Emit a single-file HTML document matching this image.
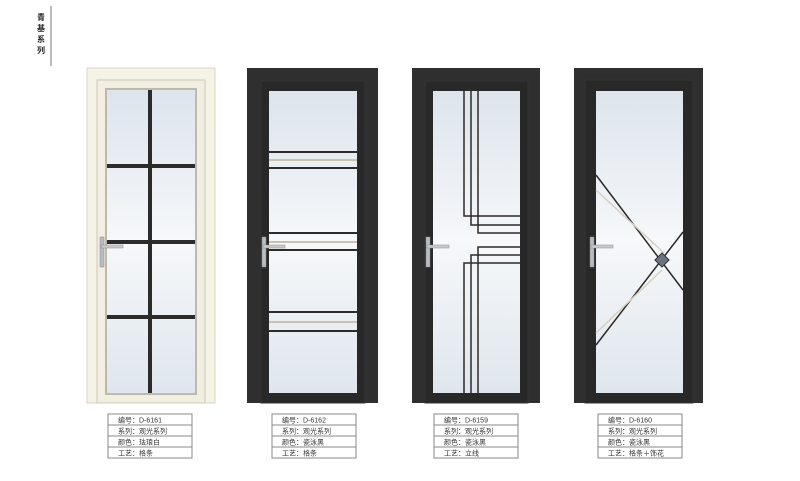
<!DOCTYPE html>
<html><head><meta charset="utf-8"><style>
body{margin:0;background:#fff;width:800px;height:476px;overflow:hidden;font-family:"Liberation Sans","Noto Sans CJK SC",sans-serif}
</style></head><body>
<svg width="800" height="476" viewBox="0 0 800 476" xmlns="http://www.w3.org/2000/svg">
<defs>
<linearGradient id="g" x1="0" y1="0" x2="0" y2="1">
<stop offset="0" stop-color="#dde4ec"/><stop offset="0.5" stop-color="#f6f8fa"/><stop offset="1" stop-color="#dfe6ed"/>
</linearGradient>
<g id="handle">
<rect x="0" y="0" width="4" height="30" fill="#b9bcc0" stroke="#888" stroke-width="0.5"/>
<rect x="1" y="8" width="22" height="3" fill="#c8cbce" stroke="#888" stroke-width="0.5"/>
</g>
</defs>
<!-- title -->
<line x1="51" y1="6" x2="51" y2="66" stroke="#bbb" stroke-width="2"/>
<text font-size="8" font-weight="bold" fill="#222" font-family="'Noto Sans CJK SC',sans-serif">
<tspan x="37" y="20">青</tspan><tspan x="37" y="31">基</tspan><tspan x="37" y="42">系</tspan><tspan x="37" y="53">列</tspan></text>

<!-- Door 1 cream -->
<rect x="87" y="68" width="128" height="335" fill="#f5f2e6" stroke="#d9d5c5"/>
<rect x="97" y="80" width="108" height="323" fill="#f2efe2" stroke="#cfcab8"/>
<rect x="105" y="88" width="92" height="307" fill="#bcb9ad"/>
<rect x="107" y="90" width="88" height="303" fill="url(#g)"/>
<rect x="148" y="90" width="4" height="303" fill="#2b2b2b"/>
<rect x="107" y="164" width="88" height="4" fill="#2b2b2b"/>
<rect x="107" y="240" width="88" height="4" fill="#2b2b2b"/>
<rect x="107" y="315" width="88" height="4" fill="#2b2b2b"/>
<use href="#handle" x="100" y="237"/>

<!-- Door 2 -->
<rect x="247" y="68" width="131" height="335" fill="#2f2f2f"/>
<rect x="261" y="81" width="104" height="322" fill="#282828" stroke="#333"/>
<rect x="269" y="91" width="88" height="302" fill="url(#g)"/>
<g fill="#2b2b2b">
<rect x="269" y="151" width="88" height="2"/><rect x="269" y="167" width="88" height="2"/>
<rect x="269" y="232" width="88" height="2"/><rect x="269" y="249" width="88" height="2"/>
<rect x="269" y="311" width="88" height="2"/><rect x="269" y="330" width="88" height="2"/>
</g>
<g fill="#c9bfb3"><rect x="269" y="159" width="88" height="2"/><rect x="269" y="241" width="88" height="2"/><rect x="269" y="321" width="88" height="2"/></g>
<use href="#handle" x="262" y="237"/>

<!-- Door 3 -->
<rect x="412" y="68" width="128" height="335" fill="#2f2f2f"/>
<rect x="425" y="81" width="103" height="322" fill="#282828" stroke="#333"/>
<rect x="433" y="91" width="87" height="302" fill="url(#g)"/>
<g fill="none" stroke="#2e2a28" stroke-width="1.5">
<path d="M464 91 V216 H520"/><path d="M471 91 V225 H520"/><path d="M478 91 V233 H520"/>
<path d="M478 393 V247 H520"/><path d="M471 393 V255 H520"/><path d="M464 393 V263 H520"/>
</g>
<use href="#handle" x="426" y="237"/>

<!-- Door 4 -->
<rect x="574" y="68" width="129" height="335" fill="#2f2f2f"/>
<rect x="585" y="80" width="108" height="323" fill="#282828" stroke="#333"/>
<rect x="596" y="91" width="87" height="302" fill="url(#g)"/>
<g stroke-width="1.5">
<line x1="596" y1="175" x2="683" y2="290" stroke="#2a2a2a"/>
<line x1="596" y1="190" x2="664" y2="253" stroke="#d6cec2"/>
<line x1="683" y1="232" x2="596" y2="345" stroke="#2a2a2a"/>
<line x1="662" y1="270" x2="596" y2="333" stroke="#d6cec2"/>
</g>
<rect x="657" y="255" width="10" height="10" fill="#6a7480" stroke="#333" transform="rotate(45 662 260)"/>
<use href="#handle" x="590" y="237"/>

<!-- tables -->
<g font-size="7" fill="#333" stroke="none">
<g transform="translate(108,414)">
<rect x="0" y="0" width="84" height="44" fill="#fff" stroke="#888"/>
<line x1="0" y1="11" x2="84" y2="11" stroke="#888"/><line x1="0" y1="22" x2="84" y2="22" stroke="#888"/><line x1="0" y1="33" x2="84" y2="33" stroke="#888"/>
<text x="10" y="8.5">编号：D-6161</text><text x="10" y="19.5">系列：观光系列</text><text x="10" y="30.5">颜色：珐琅白</text><text x="10" y="41.5">工艺：格条</text>
</g>
<g transform="translate(272,414)">
<rect x="0" y="0" width="84" height="44" fill="#fff" stroke="#888"/>
<line x1="0" y1="11" x2="84" y2="11" stroke="#888"/><line x1="0" y1="22" x2="84" y2="22" stroke="#888"/><line x1="0" y1="33" x2="84" y2="33" stroke="#888"/>
<text x="10" y="8.5">编号：D-6162</text><text x="10" y="19.5">系列：观光系列</text><text x="10" y="30.5">颜色：瓷泳黑</text><text x="10" y="41.5">工艺：格条</text>
</g>
<g transform="translate(434,414)">
<rect x="0" y="0" width="84" height="44" fill="#fff" stroke="#888"/>
<line x1="0" y1="11" x2="84" y2="11" stroke="#888"/><line x1="0" y1="22" x2="84" y2="22" stroke="#888"/><line x1="0" y1="33" x2="84" y2="33" stroke="#888"/>
<text x="10" y="8.5">编号：D-6159</text><text x="10" y="19.5">系列：观光系列</text><text x="10" y="30.5">颜色：瓷泳黑</text><text x="10" y="41.5">工艺：立线</text>
</g>
<g transform="translate(598,414)">
<rect x="0" y="0" width="84" height="44" fill="#fff" stroke="#888"/>
<line x1="0" y1="11" x2="84" y2="11" stroke="#888"/><line x1="0" y1="22" x2="84" y2="22" stroke="#888"/><line x1="0" y1="33" x2="84" y2="33" stroke="#888"/>
<text x="10" y="8.5">编号：D-6160</text><text x="10" y="19.5">系列：观光系列</text><text x="10" y="30.5">颜色：瓷泳黑</text><text x="10" y="41.5">工艺：格条＋饰花</text>
</g>
</g>
</svg>
</body></html>
